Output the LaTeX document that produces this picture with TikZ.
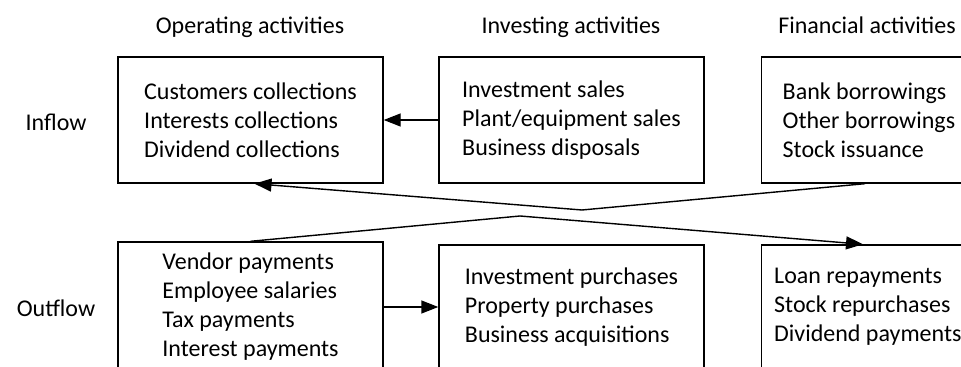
\documentclass[tikz,border=0pt]{standalone}
\usepackage{fontspec}
\setmainfont{Carlito}
\usetikzlibrary{arrows.meta}

\begin{document}
\begin{tikzpicture}[x=.5pt, y=-.5pt,
    font=\fontsize{12}{14.5}\selectfont,
    box/.style={draw, line width=.7pt, minimum width=132.5pt, align=left, inner sep=0pt},
    finbox/.style={box, anchor=west, text width=120pt, align=flush left},
    flow/.style={line width=.7pt, -{Triangle[length=8.5pt,width=6.5pt]}}]
    \useasboundingbox (0,0) rectangle (961,367);
    \clip (0,0) rectangle (961,367);

    % column and row titles
    \foreach \x/\t/\n in {250/Operating/hOp, 571/Investing/hInv, 867/Financial/hFin} {
        \node[anchor=base] (\n) at (\x,34) {\t\ activities};}
    \node (lIn) at (56,122) {Inflow};
    \node (lOut) at (56,308) {Outflow};

    % inflow row
    \node[box, minimum height=63pt] (opIn) at (250.5,120) {Customers collections\\Interests collections\\Dividend collections};
    \node[box, minimum height=63pt] (invIn) at (571.5,120) {Investment sales\\Plant/equipment sales\\Business disposals};
    \node[finbox, minimum height=63pt, inner xsep=10.5pt] (finIn) at (761,120) {Bank borrowings\\Other borrowings\\Stock issuance};

    % outflow row
    \node[box, minimum height=65pt] (opOut) at (250.5,307) {Vendor payments\\Employee salaries\\Tax payments\\Interest payments};
    \node[box, minimum height=62pt] (invOut) at (571.5,307) {Investment purchases\\Property purchases\\Business acquisitions};
    \node[finbox, minimum height=62pt, inner xsep=6pt] (finOut) at (761,307) {Loan repayments\\Stock repurchases\\Dividend payments};

    \draw[flow] (invIn.west) -- (opIn.east);
    \draw[flow] (opOut.east) -- (invOut.west);

    % the two crossing flows
    \coordinate (kA) at (582,210);
    \coordinate (kB) at (520,216);
    \draw[flow] ([xshift=52pt]finIn.south west) -- (kA) -- ([xshift=2pt]opIn.south);
    \draw[flow] (opOut.north) -- (kB) -- ([xshift=51pt]finOut.north west);
\end{tikzpicture}
\end{document}
